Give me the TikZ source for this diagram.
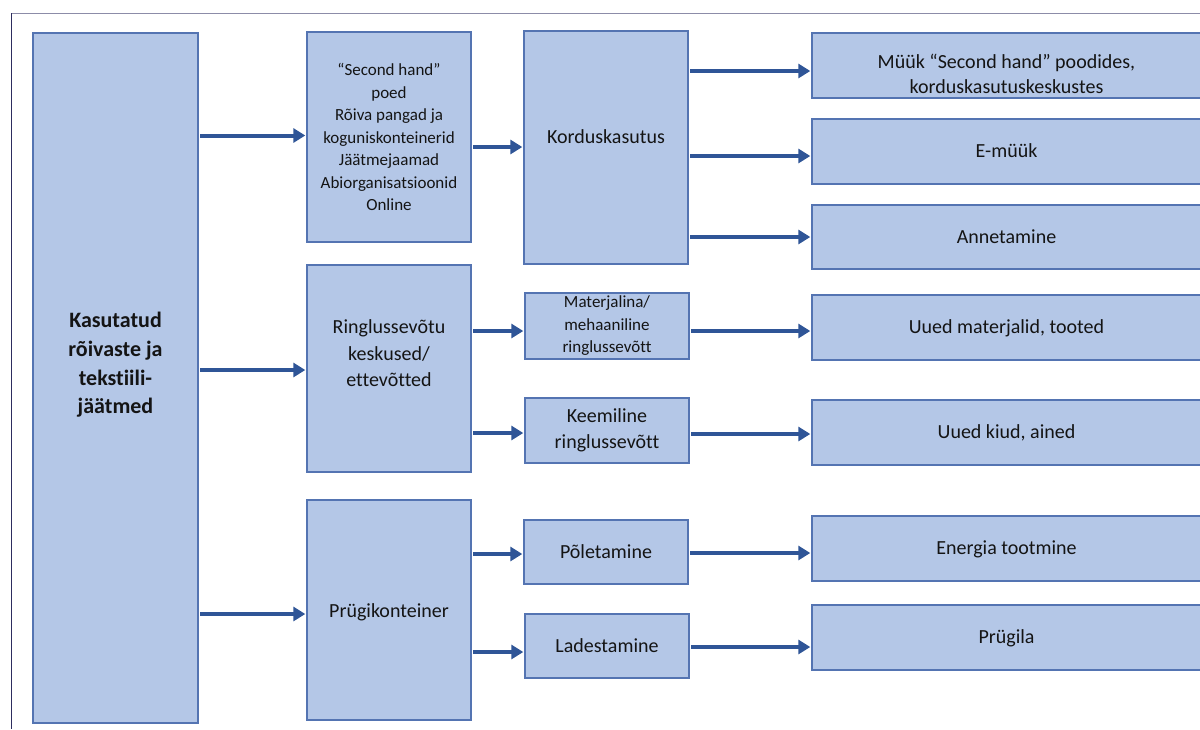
\documentclass[tikz,border=0pt]{standalone}
\usepackage{fontspec}
\setmainfont{Carlito}[Ligatures=NoCommon]
\usetikzlibrary{arrows.meta}

\definecolor{boxfill}{RGB}{180,199,231}
\definecolor{boxline}{RGB}{84,116,178}
\definecolor{arrowblue}{RGB}{47,85,151}
\definecolor{frametop}{RGB}{140,140,168}
\definecolor{frameleft}{RGB}{45,45,95}
\definecolor{ink}{RGB}{20,20,20}

\tikzset{
  box/.style={draw=boxline, fill=boxfill, line width=1.4pt, inner sep=0pt,
    text=ink, align=center, font=\fontsize{20}{24}\selectfont},
  oneline/.style={text height=14pt, text depth=2pt},
  lbl/.style={text=ink, align=center, inner sep=0pt},
  arr/.style={draw=arrowblue, line width=4pt,
    -{Triangle[length=12pt,width=14pt]}, shorten >=1pt, shorten <=1.5pt},
}

\begin{document}
\begin{tikzpicture}[x=1pt, y=-1pt]
\clip (0,0) rectangle (1200,729);
\fill[white] (0,0) rectangle (1200,729);

% outer frame
\draw[frametop, line width=1pt] (11,13) -- (1200,13);
\draw[frameleft, line width=1pt] (11,13) -- (11,729);

% source column
\node[box, minimum width=165pt, minimum height=690pt,
  label={[lbl, font=\bfseries\fontsize{22}{28.7}\selectfont, yshift=13pt]center:Kasutatud\\rõivaste ja\\tekstiili-\\jäätmed}]
  (A) at (115.5,378) {};

% collection points
\node[box, minimum width=164pt, minimum height=210pt,
  font=\fontsize{17}{22.5}\selectfont] (B1) at (389,137)
  {“Second hand”\\poed\\Rõiva pangad ja\\koguniskonteinerid\\Jäätmejaamad\\Abiorganisatsioonid\\Online};
\node[box, minimum width=164pt, minimum height=207pt,
  label={[lbl, font=\fontsize{20}{26.5}\selectfont, yshift=15pt]center:Ringlussevõtu\\keskused/\\ettevõtted}]
  (B2) at (389,368.5) {};
\node[box, minimum width=164pt, minimum height=220pt,
  label={[lbl, oneline, font=\fontsize{20}{24}\selectfont, yshift=-1pt]center:Prügikonteiner}]
  (B3) at (389,610) {};

% treatment
\node[box, minimum width=164pt, minimum height=233pt,
  label={[lbl, oneline, font=\fontsize{20}{24}\selectfont, yshift=10pt]center:Korduskasutus}]
  (C1) at (606,147.5) {};
\node[box, minimum width=164pt, minimum height=66pt,
  font=\fontsize{17}{22.5}\selectfont] (C2) at (607,326)
  {Materjalina/\\mehaaniline\\ringlussevõtt};
\node[box, minimum width=164pt, minimum height=65pt,
  font=\fontsize{20}{26}\selectfont] (C3) at (607,430.5)
  {Keemiline\\ringlussevõtt};
\node[box, oneline, minimum width=164pt, minimum height=64pt] (C4) at (606,552) {Põletamine};
\node[box, oneline, minimum width=164pt, minimum height=64pt] (C5) at (607,646) {Ladestamine};

% outcomes
\node[box, minimum width=389pt, minimum height=65pt,
  label={[lbl, font=\fontsize{20}{25}\selectfont, yshift=-8pt]center:Müük “Second hand” poodides,\\korduskasutuskeskustes}]
  (D1) at (1006.5,65.5) {};
\node[box, oneline, minimum width=389pt, minimum height=65pt] (D2) at (1006.5,151.5) {E-müük};
\node[box, oneline, minimum width=389pt, minimum height=64pt] (D3) at (1006.5,237) {Annetamine};
\node[box, oneline, minimum width=389pt, minimum height=65pt] (D4) at (1006.5,327.5) {Uued materjalid, tooted};
\node[box, oneline, minimum width=389pt, minimum height=65pt] (D5) at (1006.5,432.5) {Uued kiud, ained};
\node[box, oneline, minimum width=389pt, minimum height=65pt] (D6) at (1006.5,548.5) {Energia tootmine};
\node[box, oneline, minimum width=389pt, minimum height=65pt] (D7) at (1006.5,637.5) {Prügila};

% connectors
\draw[arr] (A.east |- 0,135.5) -- (B1.west |- 0,135.5);
\draw[arr] (A.east |- 0,370) -- (B2.west |- 0,370);
\draw[arr] (A.east |- 0,614) -- (B3.west |- 0,614);

\draw[arr] (B1.east |- 0,147) -- (C1.west |- 0,147);
\draw[arr] (C1.east |- 0,71) -- (D1.west |- 0,71);
\draw[arr] (C1.east |- 0,156) -- (D2.west |- 0,156);
\draw[arr] (C1.east |- 0,237) -- (D3.west |- 0,237);

\draw[arr] (B2.east |- 0,331) -- (C2.west |- 0,331);
\draw[arr] (B2.east |- 0,433) -- (C3.west |- 0,433);
\draw[arr] (C2.east |- 0,331) -- (D4.west |- 0,331);
\draw[arr] (C3.east |- 0,434) -- (D5.west |- 0,434);

\draw[arr] (B3.east |- 0,554) -- (C4.west |- 0,554);
\draw[arr] (B3.east |- 0,652) -- (C5.west |- 0,652);
\draw[arr] (C4.east |- 0,553) -- (D6.west |- 0,553);
\draw[arr] (C5.east |- 0,647) -- (D7.west |- 0,647);
\end{tikzpicture}
\end{document}
